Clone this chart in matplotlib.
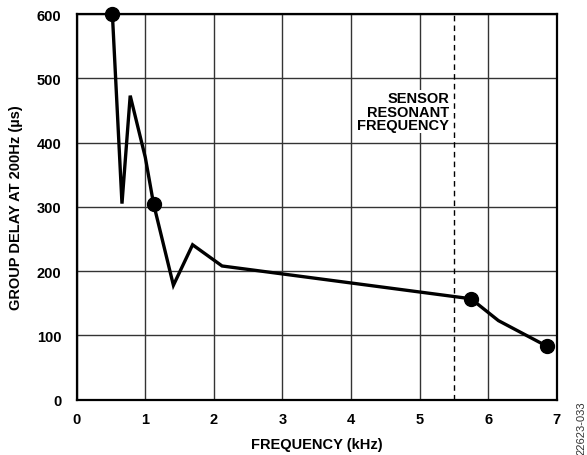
import matplotlib
matplotlib.use("Agg")
import matplotlib.pyplot as plt

# Data
freq_khz = [0.52, 0.66, 0.78, 1.0, 1.12, 1.41, 1.69, 2.12, 5.75, 6.15, 6.86]
delay_us = [600, 305, 473, 377, 305, 178, 241, 208, 157, 123, 83]
marker_freq = [0.52, 1.12, 5.75, 6.86]
marker_delay = [600, 305, 157, 83]
resonant_freq = 5.5
x_ticks = [0, 1, 2, 3, 4, 5, 6, 7]
y_ticks = [0, 100, 200, 300, 400, 500, 600]

plt.rcParams['font.family'] = ['Liberation Sans', 'DejaVu Sans']
FS = 10.5

fig = plt.figure(figsize=(5.87, 4.56), dpi=100)
ax = fig.add_axes([0.1307, 0.1213, 0.8177, 0.8458])

ax.set_xlim(0, 7)
ax.set_ylim(0, 600)
ax.set_xticks(x_ticks)
ax.set_yticks(y_ticks)
ax.set_xticklabels([str(t) for t in x_ticks], fontsize=FS, fontweight='bold')
ax.set_yticklabels([str(t) for t in y_ticks], fontsize=FS, fontweight='bold')
ax.tick_params(length=0)
ax.tick_params(axis='x', pad=9)
ax.tick_params(axis='y', pad=11)

ax.grid(True, color='#333333', linewidth=1.0)
ax.set_axisbelow(True)
for s in ax.spines.values():
    s.set_linewidth(1.6)
    s.set_color('black')

ax.plot(freq_khz, delay_us, color='black', linewidth=2.4, solid_joinstyle='miter', zorder=3)
ax.plot(marker_freq, marker_delay, 'o', color='black', markersize=10, zorder=4, clip_on=False)

ax.axvline(resonant_freq, color='black', linestyle=(0, (4, 3)), linewidth=1.0, zorder=2)
ax.text(resonant_freq - 0.07, 480, "SENSOR\nRESONANT\nFREQUENCY", ha='right', va='top',
        fontsize=FS, fontweight='bold', linespacing=0.95,
        bbox=dict(facecolor='white', edgecolor='none', pad=1), zorder=2.5)

ax.set_xlabel("FREQUENCY (kHz)", fontsize=FS, fontweight='bold')
ax.set_ylabel("GROUP DELAY AT 200Hz (µs)", fontsize=FS, fontweight='bold')
ax.xaxis.set_label_coords(0.5, -0.097)
ax.yaxis.set_label_coords(-0.112, 0.5)

fig.text(0.991, 0.002, "22623-033", rotation=90, fontsize=8, color='#333333', ha='center', va='bottom')

fig.savefig("out.png", dpi=100)
